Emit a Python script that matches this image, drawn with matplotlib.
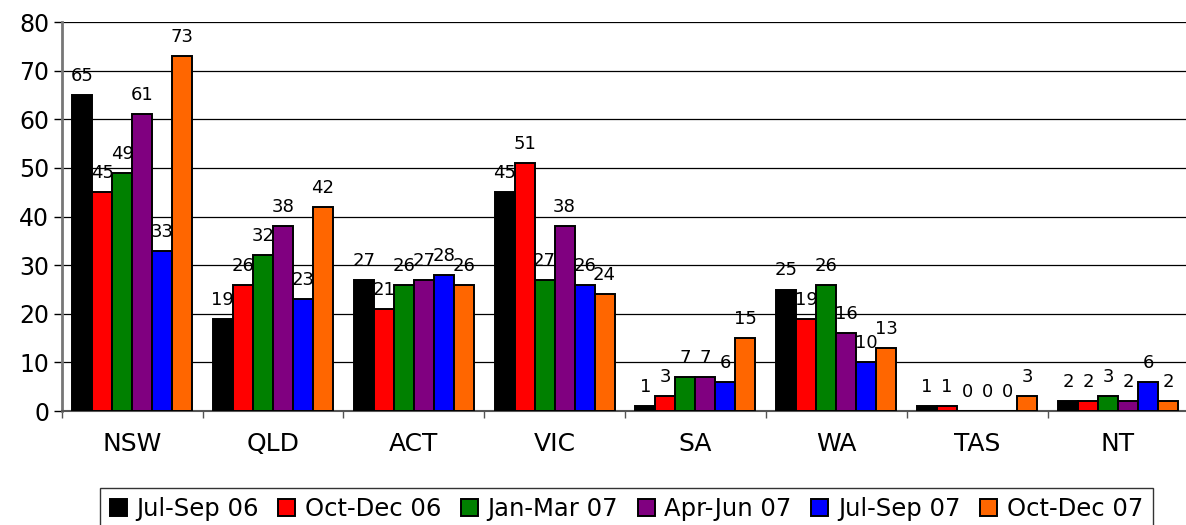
import numpy as np
import matplotlib.pyplot as plt

plt.rcParams['font.family'] = ['DejaVu Sans']

# %% data
states = ['NSW', 'QLD', 'ACT', 'VIC', 'SA', 'WA', 'TAS', 'NT']
series = ['Jul-Sep 06', 'Oct-Dec 06', 'Jan-Mar 07', 'Apr-Jun 07', 'Jul-Sep 07', 'Oct-Dec 07']
jul_sep_06 = [65, 19, 27, 45, 1, 25, 1, 2]
oct_dec_06 = [45, 26, 21, 51, 3, 19, 1, 2]
jan_mar_07 = [49, 32, 26, 27, 7, 26, 0, 3]
apr_jun_07 = [61, 38, 27, 38, 7, 16, 0, 2]
jul_sep_07 = [33, 23, 28, 26, 6, 10, 0, 6]
oct_dec_07 = [73, 42, 26, 24, 15, 13, 3, 2]
colors = ['#000000', '#ff0000', '#008000', '#800080', '#0000ff', '#ff6600']

values = [jul_sep_06, oct_dec_06, jan_mar_07, apr_jun_07, jul_sep_07, oct_dec_07]

# %% plot
fig = plt.figure(figsize=(11.86, 5.25), dpi=100)
ax = fig.add_axes([0.052, 0.217, 0.950, 0.741])

x = np.arange(len(states))
width = 0.142
for i, (name, vals, c) in enumerate(zip(series, values, colors)):
    pos = x + (i - 2.5) * width
    ax.bar(pos, vals, width, color=c, edgecolor='black', linewidth=1.4,
           label=name, zorder=3)
    for px, v in zip(pos, vals):
        ax.text(px, v + 2.9, str(v), ha='center', va='baseline', fontsize=13, zorder=4)

ax.set_ylim(0, 80)
ax.set_xlim(-0.5, len(states) - 0.5)
ax.set_yticks(range(0, 81, 10))
ax.yaxis.grid(True, color='black', linewidth=0.9, zorder=0)
ax.set_axisbelow(True)

ax.set_xticks(x)
ax.set_xticklabels(states, fontsize=18)
ax.set_xticks(np.arange(-0.5, len(states)), minor=True)
ax.tick_params(axis='x', which='major', length=0, pad=15)
ax.tick_params(axis='x', which='minor', length=5, width=1, color='#555555')
ax.tick_params(axis='y', labelsize=17, length=6, width=1, pad=3)

for side in ['top', 'right']:
    ax.spines[side].set_visible(False)
ax.spines['left'].set_color('#777777')
ax.spines['left'].set_linewidth(2)
ax.spines['bottom'].set_color('#555555')
ax.spines['bottom'].set_linewidth(1.5)

leg = fig.legend(loc='center', bbox_to_anchor=(0.528, 0.030), ncol=6, fontsize=17.5,
                 frameon=True, fancybox=False, edgecolor='black', handlelength=0.7,
                 handleheight=0.7, handletextpad=0.4, columnspacing=0.8,
                 borderpad=0.4)
leg.get_frame().set_linewidth(1)

fig.savefig('out.png', dpi=100)
